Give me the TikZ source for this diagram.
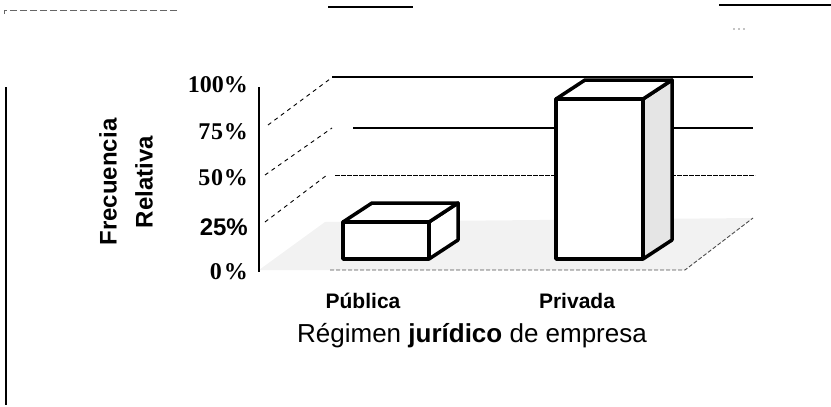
\documentclass[tikz,border=0pt]{standalone}
\usepackage{fontspec}
\setmainfont{Liberation Serif}
\setsansfont{Liberation Sans}
\usetikzlibrary{positioning}
\tikzset{>=stealth}
\tikzset{
  pctlabel/.style={anchor=east, inner sep=0pt, font=\rmfamily\bfseries\fontsize{24}{24}\selectfont},
  cattext/.style={inner sep=0pt, font=\sffamily\bfseries\fontsize{21}{21}\selectfont},
  barline/.style={line width=3.5pt, line join=round},
  gridline/.style={line width=1.6pt},
  depthline/.style={dash pattern=on 4pt off 4pt, line width=0.9pt},
  flooredge/.style={dash pattern=on 4pt off 2pt, line width=0.9pt, black!70},
}

\begin{document}
\begin{tikzpicture}[x=1pt,y=-1pt]
    \useasboundingbox (0,0) rectangle (831,407);
    % rests of the scanned page
    \draw[dash pattern=on 7pt off 3pt, black!60, line width=1pt] (4,14) -- (4,10) -- (178,10);
    \draw[line width=1.8pt] (328,7) -- (413,7);
    \draw[line width=1.8pt] (719,5) -- (831,5);
    \fill (734,29) circle (0.7pt) (739,29) circle (0.7pt) (744,29) circle (0.7pt);
    \draw[line width=1.6pt] (6,87) -- (6,405);
    % floor
    \fill[black!5] (259,270) -- (685,270) -- (753,218) -- (325,222) -- cycle;
    \draw[flooredge] (330,270) -- (685,270) -- (753,218);
    % back wall
    \draw[gridline] (332,77) -- (753,77);
    \draw[gridline] (353,128) -- (753,128);
    \draw[dash pattern=on 5pt off 1pt, line width=1pt] (335,175) -- (755,175);
    \draw[depthline] (268,125) -- (330,79);
    \draw[depthline] (265,175) -- (332,128);
    \draw[depthline] (265,222) -- (327,175);
    % axis
    \draw[line width=1.6pt] (259,87) -- (259,272);
    % bars
    \foreach \xl/\xr/\yt/\sh in {343/429/222/0, 556/643/99/10} {
        \filldraw[barline, fill=black!\sh] (\xr,\yt) -- ++(29,-19) -- (\xr+29,240) -- (\xr,259) -- cycle;
        \filldraw[barline, fill=white] (\xl,\yt) -- ++(29,-19) -- (\xr+29,\yt-19) -- (\xr,\yt) -- cycle;
        \filldraw[barline, fill=white] (\xl,\yt) rectangle (\xr,259);
    }
    % labels
    \node[pctlabel] (p100) at (248,85) {100\%};
    \node[pctlabel] (p75) at (248,132) {\addfontfeature{LetterSpace=3}75\%};
    \node[pctlabel] (p50) at (248,178) {\addfontfeature{LetterSpace=3}50\%};
    \node[pctlabel, font=\sffamily\bfseries\fontsize{24}{24}\selectfont] (p25) at (248,227) {25\%};
    \node[pctlabel] (p0) at (248,272) {0\kern2pt\%};
    \node[rotate=90, align=center, inner sep=0pt, font=\sffamily\bfseries\fontsize{24}{36}\selectfont] (ylab) at (126,182) {Frecuencia\\Relativa};
    \node[cattext] (pub) at (363,301) {Pública};
    \node[cattext] (priv) at (577,301) {Privada};
    \node[inner sep=0pt, font=\sffamily\fontsize{26}{26}\selectfont] (xlab) at (472,336) {Régimen \textbf{jurídico} de empresa};
\end{tikzpicture}
\end{document}
